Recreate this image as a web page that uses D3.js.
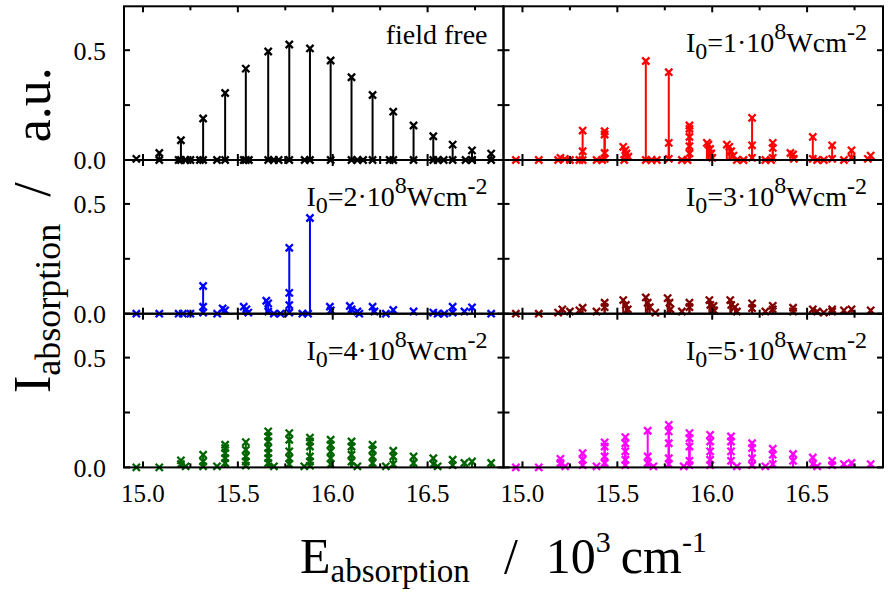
<!DOCTYPE html>
<html><head><meta charset="utf-8">
<script src="https://cdn.jsdelivr.net/npm/d3@7"></script>
<style>body{margin:0;background:#fff}svg{display:block}text{font-family:'Liberation Serif','Times New Roman',serif}</style>
</head><body>
<svg id="c" width="892" height="596"></svg>
<script>
// ---------- data ----------
const xDomain = [14.9, 16.9];
const yDomain = [0, 0.7];
const xMajorTicks = [15.0, 15.5, 16.0, 16.5];
const xMinorTicks = [15.25, 15.75, 16.25, 16.75];
const yMajorTicks = [0.0, 0.5];
const yMinorTicks = [0.25];
const fieldIntensities = [null, 1, 2, 3, 4, 5];   // I0 in 10^8 W cm^-2
const panelColors = ["#000000", "#ff0000", "#0000ff", "#800000", "#006400", "#ff00ff"];

const fieldFree = [[14.965,0.005],[15.086,0.032],[15.188,0],[15.20,0.09],[15.223,0],[15.25,0],
 [15.30,0],[15.317,0.189],[15.39,0],[15.433,0.305],[15.531,0],[15.542,0.416],[15.558,0],
 [15.660,0.494],[15.69,0],[15.715,0],[15.771,0.526],[15.852,0],[15.880,0.508],[15.989,0.453],
 [16.099,0.377],[16.13,0],[16.16,0],[16.210,0.296],[16.30,0],[16.319,0.22],[16.426,0.157],
 [16.530,0.108],[16.553,0],[16.585,0],[16.632,0.07],[16.70,0],[16.734,0.044],[16.835,0.029],
 [15.086,0],[15.20,0],[15.317,0],[15.433,0],[15.542,0],[15.660,0],[15.771,0],[15.880,0],
 [15.989,0],[16.099,0],[16.210,0],[16.319,0],[16.426,0],[16.530,0],[16.632,0],[16.734,0],[16.835,0]];

const field1 = [[14.965,0],[15.086,0],[15.188,0],[15.20,0.01],[15.223,0.005],[15.25,0],
 [15.30,0],[15.317,0.134],[15.317,0.04],[15.317,0],[15.391,0],[15.433,0.131],[15.433,0.116],
 [15.433,0.032],[15.433,0.005],[15.42,0],[15.531,0.06],[15.542,0.045],[15.548,0.03],[15.558,0.015],
 [15.536,0],[15.650,0.451],[15.650,0],[15.681,0],[15.708,0],[15.771,0.40],[15.771,0.078],
 [15.771,0.005],[15.84,0],[15.880,0.157],[15.880,0.142],[15.880,0.105],[15.880,0.063],[15.880,0.03],
 [15.87,0],[15.972,0.078],[15.98,0.07],[15.989,0.05],[15.995,0.03],[16.0,0.01],[16.077,0.07],
 [16.09,0.06],[16.10,0.04],[16.112,0.02],[16.13,0],[16.165,0],[16.210,0.192],[16.210,0.067],
 [16.210,0.01],[16.28,0],[16.319,0.078],[16.319,0.055],[16.319,0.01],[16.31,0],[16.412,0.032],
 [16.426,0.025],[16.43,0.005],[16.530,0.105],[16.530,0.005],[16.553,0],[16.588,0],[16.632,0.067],
 [16.632,0.005],[16.694,0],[16.734,0.044],[16.734,0.01],[16.835,0.02],[16.82,0.005]];

const field2 = [[14.965,0],[15.086,0],[15.188,0],[15.21,0],[15.25,0],[15.317,0.126],[15.317,0.032],
 [15.317,0.005],[15.391,0],[15.42,0.024],[15.433,0.015],[15.531,0.032],[15.545,0.02],[15.555,0.005],
 [15.650,0.059],[15.660,0.047],[15.66,0.01],[15.69,0],[15.725,0],[15.771,0.30],[15.771,0.095],
 [15.771,0.039],[15.771,0.005],[15.84,0],[15.87,0],[15.880,0.436],[15.985,0.032],[15.99,0.015],
 [16.09,0.035],[16.099,0.02],[16.13,0.01],[16.14,0],[16.210,0.032],[16.22,0.01],[16.28,0],
 [16.319,0.017],[16.426,0.01],[16.530,0.005],[16.553,0],[16.588,0],[16.632,0.032],[16.632,0.005],
 [16.694,0.01],[16.734,0.029],[16.835,0]];

const field3 = [[14.965,0],[15.086,0],[15.188,0.005],[15.21,0.02],[15.25,0.01],[15.30,0.015],
 [15.317,0.027],[15.39,0.01],[15.433,0.05],[15.433,0.03],[15.531,0.062],[15.545,0.04],[15.555,0.02],
 [15.65,0.074],[15.66,0.05],[15.671,0.03],[15.70,0.005],[15.765,0.071],[15.775,0.05],[15.78,0.02],
 [15.84,0.01],[15.880,0.05],[15.880,0.03],[15.985,0.062],[15.99,0.04],[16.007,0.035],[16.01,0.015],
 [16.095,0.062],[16.10,0.04],[16.12,0.03],[16.13,0.01],[16.21,0.047],[16.21,0.025],[16.28,0.01],
 [16.319,0.036],[16.319,0.02],[16.426,0.027],[16.426,0.01],[16.530,0.02],[16.553,0.01],[16.588,0.005],
 [16.632,0.02],[16.632,0.01],[16.694,0.015],[16.734,0.02],[16.835,0.015]];

const field4 = [[14.965,0],[15.086,0],[15.20,0.032],[15.20,0.015],[15.225,0.005],[15.317,0.058],
 [15.317,0.027],[15.317,0.005],[15.39,0.005],[15.433,0.103],[15.433,0.088],[15.433,0.065],
 [15.433,0.042],[15.433,0.02],[15.542,0.115],[15.542,0.08],[15.542,0.05],[15.542,0.027],
 [15.542,0.008],[15.660,0.164],[15.660,0.141],[15.660,0.118],[15.660,0.088],[15.660,0.065],
 [15.660,0.042],[15.660,0.02],[15.69,0.005],[15.771,0.156],[15.771,0.126],[15.771,0.073],
 [15.771,0.042],[15.771,0.015],[15.85,0.005],[15.880,0.136],[15.880,0.118],[15.880,0.095],
 [15.880,0.05],[15.880,0.027],[15.880,0.008],[15.989,0.126],[15.989,0.103],[15.989,0.073],
 [15.989,0.042],[15.989,0.015],[16.099,0.118],[16.099,0.095],[16.099,0.058],[16.099,0.027],
 [16.13,0.005],[16.210,0.103],[16.210,0.08],[16.210,0.05],[16.210,0.02],[16.28,0.005],
 [16.319,0.076],[16.319,0.05],[16.319,0.015],[16.426,0.05],[16.426,0.02],[16.530,0.042],
 [16.530,0.015],[16.553,0.005],[16.632,0.035],[16.632,0.01],[16.694,0.02],[16.734,0.027],[16.835,0.02]];

const field5 = [[14.965,0],[15.086,0],[15.20,0.039],[15.20,0.02],[15.225,0.005],[15.317,0.065],
 [15.317,0.035],[15.317,0.01],[15.39,0.005],[15.433,0.114],[15.433,0.095],[15.433,0.05],
 [15.433,0.02],[15.542,0.138],[15.542,0.11],[15.542,0.073],[15.542,0.035],[15.542,0.01],
 [15.660,0.167],[15.660,0.05],[15.660,0.02],[15.69,0.005],[15.771,0.194],[15.771,0.164],
 [15.771,0.11],[15.771,0.042],[15.771,0.015],[15.85,0.005],[15.880,0.156],[15.880,0.133],
 [15.880,0.095],[15.880,0.03],[15.880,0.01],[15.989,0.148],[15.989,0.118],[15.989,0.073],
 [15.989,0.035],[15.989,0.01],[16.099,0.141],[16.099,0.118],[16.099,0.073],[16.099,0.03],
 [16.13,0.005],[16.210,0.11],[16.210,0.088],[16.210,0.042],[16.210,0.01],[16.28,0.005],
 [16.319,0.085],[16.319,0.058],[16.319,0.015],[16.426,0.061],[16.426,0.03],[16.530,0.045],
 [16.530,0.015],[16.553,0.005],[16.632,0.03],[16.632,0.01],[16.694,0.015],[16.734,0.02],[16.835,0.015]];

const panelData = [fieldFree, field1, field2, field3, field4, field5];

// ---------- layout ----------
const colLeft = [124, 503.5], colW = 379.5;
const rowTop = [6.3, 160, 313.7], rowH = 153.7;

const svg = d3.select("#c");
svg.append("rect").attr("width", 892).attr("height", 596).attr("fill", "#fff");

const xs = [0, 1].map(c => d3.scaleLinear().domain(xDomain).range([colLeft[c], colLeft[c] + colW]));
const ys = [0, 1, 2].map(r => d3.scaleLinear().domain(yDomain).range([rowTop[r] + rowH, rowTop[r]]));

const gPanels = svg.append("g");

panelData.forEach((data, i) => {
  const r = Math.floor(i / 2), c = i % 2;
  const x = xs[c], y = ys[r], col = panelColors[i];
  const g = gPanels.append("g");
  g.selectAll("line.stem").data(data).join("line")
    .attr("x1", d => x(d[0])).attr("x2", d => x(d[0]))
    .attr("y1", y(0)).attr("y2", d => y(d[1]))
    .attr("stroke", col).attr("stroke-width", 2);
  g.selectAll("path.mk").data(data).join("path")
    .attr("d", "M-3.6,-3.6L3.6,3.6M-3.6,3.6L3.6,-3.6")
    .attr("transform", d => `translate(${x(d[0])},${y(d[1])})`)
    .attr("stroke", col).attr("stroke-width", 2.3).attr("fill", "none");
});

// frames, ticks
const gAx = svg.append("g");
for (let r = 0; r < 3; r++) for (let c = 0; c < 2; c++) {
  const x = xs[c], y = ys[r];
  const L = colLeft[c], R = colLeft[c] + colW, T = rowTop[r], B = rowTop[r] + rowH;
  gAx.append("rect").attr("x", L).attr("y", T).attr("width", colW).attr("height", rowH)
    .attr("fill", "none").attr("stroke", "#000").attr("stroke-width", 2);
  const tk = (x1, y1, x2, y2) => gAx.append("line").attr("x1", x1).attr("y1", y1).attr("x2", x2).attr("y2", y2)
    .attr("stroke", "#000").attr("stroke-width", 2);
  xMajorTicks.forEach(v => { tk(x(v), T, x(v), T + 6); tk(x(v), B, x(v), B - 6); });
  xMinorTicks.forEach(v => { tk(x(v), T, x(v), T + 4); tk(x(v), B, x(v), B - 4); });
  yMajorTicks.concat(yMinorTicks).forEach(v => { tk(L, y(v), L + 6, y(v)); tk(R, y(v), R - 6, y(v)); });
  if (c === 0) {
    yMajorTicks.forEach(v => gAx.append("text").attr("x", 106).attr("y", y(v)).attr("dy", "0.36em")
      .attr("text-anchor", "end").attr("font-size", 26).text(d3.format(".1f")(v)));
  }
  if (r === 2) {
    xMajorTicks.forEach(v => gAx.append("text").attr("x", x(v)).attr("y", 502)
      .attr("text-anchor", "middle").attr("font-size", 25).text(d3.format(".1f")(v)));
  }
}

// panel labels
fieldIntensities.forEach((v, i) => {
  const r = Math.floor(i / 2), c = i % 2;
  const xr = colLeft[c] + colW - 16;
  if (v === null) {
    svg.append("text").attr("x", xr).attr("y", rowTop[r] + 38).attr("text-anchor", "end")
      .attr("font-size", 28).text("field free");
  } else {
    const t = svg.append("text").attr("x", xr).attr("y", rowTop[r] + 46).attr("text-anchor", "end")
      .attr("font-size", 28);
    t.append("tspan").text("I");
    t.append("tspan").attr("font-size", 24).attr("dy", 7).text("0");
    t.append("tspan").attr("dy", -7).text("=" + v + "\u00b7" + "10");
    t.append("tspan").attr("font-size", 24).attr("dy", -13).text("8");
    t.append("tspan").attr("dy", 13).text("Wcm");
    t.append("tspan").attr("font-size", 24).attr("dy", -12).text("-2");
  }
});

// axis titles
const xt = svg.append("text").attr("x", 300).attr("y", 573).attr("font-size", 50);
xt.append("tspan").text("E");
xt.append("tspan").attr("font-size", 33).attr("dy", 9).text("absorption");
xt.append("tspan").attr("dy", -9).attr("dx", 34).text("/");
xt.append("tspan").attr("dx", 28).text("10");
xt.append("tspan").attr("font-size", 30).attr("dy", -21).text("3");
xt.append("tspan").attr("dy", 21).attr("dx", 10).text("cm");
xt.append("tspan").attr("font-size", 30).attr("dy", -21).text("-1");

const yt = svg.append("text").attr("transform", "translate(50,393) rotate(-90)").attr("font-size", 52);
yt.append("tspan").text("I");
yt.append("tspan").attr("font-size", 36).attr("dy", 10).text("absorption");
yt.append("tspan").attr("dy", -10).attr("dx", 27).text("/");
yt.append("tspan").attr("dx", 40).text("a.u.");
</script>
</body></html>
